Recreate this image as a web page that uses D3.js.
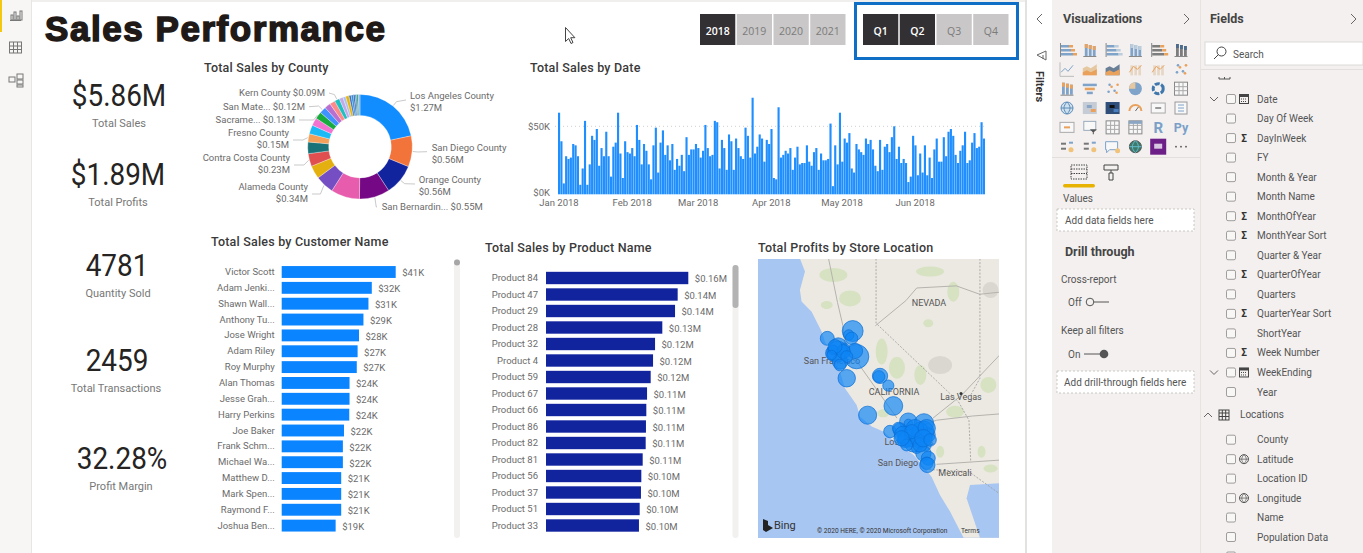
<!DOCTYPE html>
<html>
<head>
<meta charset="utf-8">
<script src="https://cdn.jsdelivr.net/npm/d3@7/dist/d3.min.js"></script>
<style>
  html, body { margin: 0; padding: 0; background: #fff; overflow: hidden; }
  svg { display: block; font-family: Roboto, "Noto Sans", sans-serif; }
  .axis path, .axis line { display: none; }
  .axis text { font-family: Roboto, sans-serif; fill: #6b6b6b; font-size: 9.5px; }
</style>
</head>
<body>
<div id="chart"></div>
<script>
// ---- data ----
const kpiValues = ["$5.86M", "$1.89M", "4781", "2459", "32.28%"];
const kpiNames = ["Total Sales", "Total Profits", "Quantity Sold", "Total Transactions", "Profit Margin"];

const years = ["2018", "2019", "2020", "2021"];
const yearsOn = ["2018"];
const quarters = ["Q1", "Q2", "Q3", "Q4"];
const quartersOn = ["Q1", "Q2"];

const countySales = [1.27, 0.56, 0.56, 0.55, 0.52, 0.34, 0.24, 0.23, 0.21, 0.15, 0.16, 0.14, 0.13, 0.12, 0.11, 0.10, 0.09, 0.07, 0.05, 0.06, 0.04, 0.04, 0.03, 0.03, 0.03, 0.03];
const countyPalette = ["#118dff", "#f2743b", "#12239e", "#750985", "#e85cad", "#744ec2", "#e3b00f", "#e04f4f", "#197278", "#f5a05a", "#1bb9f5", "#f472d0", "#1aab40", "#4092ff", "#b96fd0", "#ff8a8a", "#1fc0bf", "#c4a9e8", "#a9c2f0", "#e8b50d", "#3a6fc9", "#2f8fd8", "#2b5aa8", "#4a8cc7", "#2f9e6e", "#7fb2e5"];

const dailySales = [
  60,39,8,28,26,27,37,36,28,7,19,54,7,22,43,40,48,21,34,28,46,28,13,35,38,60,30,12,39,31,30,
  34,28,51,40,22,37,32,22,11,36,49,16,38,47,29,36,25,37,18,26,21,29,17,42,29,33,33,37,
  34,27,32,51,34,28,29,54,53,19,40,34,18,44,39,18,41,34,28,26,49,43,27,71,30,35,44,41,24,40,37,
  48,12,11,64,27,29,32,30,34,18,27,35,22,23,23,36,24,21,31,34,18,30,25,25,26,52,6,36,22,60,
  24,41,38,45,19,16,37,33,31,29,41,37,40,33,21,17,40,18,35,37,31,42,50,26,35,23,26,23,9,13,43,
  36,14,30,16,36,14,27,12,33,41,24,24,42,28,46,48,43,29,23,32,36,46,23,25,38,45,34,35,53,41
];

const customerNames = ["Victor Scott", "Adam Jenki...", "Shawn Wall...", "Anthony Tu...", "Jose Wright", "Adam Riley", "Roy Murphy", "Alan Thomas", "Jesse Grah...", "Harry Perkins", "Joe Baker", "Frank Schm...", "Michael Wa...", "Matthew D...", "Mark Spen...", "Raymond F...", "Joshua Ben..."];
const customerSales = [41, 32.4, 31.2, 29.4, 27.8, 27.3, 27, 24.4, 24.4, 24.3, 22.4, 22, 22, 21.4, 21.4, 21.4, 19.4];

const productNames = ["Product 84", "Product 47", "Product 29", "Product 28", "Product 32", "Product 4", "Product 59", "Product 67", "Product 66", "Product 86", "Product 82", "Product 81", "Product 56", "Product 37", "Product 51", "Product 33"];
const productSales = [0.1566, 0.1449, 0.142, 0.128, 0.12, 0.1178, 0.1152, 0.1112, 0.1104, 0.11, 0.1097, 0.1064, 0.1049, 0.1045, 0.1031, 0.1023];

const storeLon = [-121.16,-122.57,-121.38,-121.22,-120.94,-121.03,-121.96,-122.24,-121.62,-122.01,-121.86,-121.68,-122.24,-121.49,-119.64,-119.7,-119.18,-118.9,-120.33,-118.07,-117.2,-119.09,-118.53,-118.07,-117.6,-117.23,-116.96,-118.25,-117.79,-117.98,-117.42,-118.07,-117.6,-117.14,-117.23,-116.96,-117.05,-117.01,-118.62,-117.42,-118.35,-117.7,-117.05,-117.42,-118.16,-117.88,-118.44,-117.23,-116.86,-122.14,-121.49,-121.86,-122.33];
const storeLat = [39.15,38.8,38.96,38.8,37.93,38.2,38.41,38.09,38.33,38.17,37.69,38.17,38.25,36.9,37.01,36.98,36.55,35.58,35.14,34.83,34.75,34.36,34.44,34.12,34.2,34.36,34.2,33.96,33.8,34.2,34.04,34.75,33.56,33.72,33.32,33.09,32.85,32.77,34.52,34.44,34.2,34.52,34.52,33.72,33.72,34.36,34.04,34.04,33.96,38.41,37.93,37.53,38];
const storeProfit = [56,25,14,20,76,30,39,30,14,56,30,25,12,39,30,18,16,45,42,39,48,20,25,56,39,56,25,30,39,14,48,9,14,20,30,25,20,30,18,30,39,39,39,25,18,25,30,39,20,25,18,18,12];

const fieldNames = ["Date", "Day Of Week", "DayInWeek", "FY", "Month & Year", "Month Name", "MonthOfYear", "MonthYear Sort", "Quarter & Year", "QuarterOfYear", "Quarters", "QuarterYear Sort", "ShortYear", "Week Number", "WeekEnding", "Year"];
const sigmaFields = ["DayInWeek", "MonthOfYear", "MonthYear Sort", "QuarterOfYear", "QuarterYear Sort", "Week Number"];
const dateFields = ["Date", "WeekEnding"];
const locationFields = ["County", "Latitude", "Location ID", "Longitude", "Name", "Population Data"];
const globeFields = ["Latitude", "Longitude"];

// basemap, as lon/lat
const coastLine = [[-124.09,42.6],[-123.81,41.98],[-124.09,41.1],[-124,40.55],[-123.44,40.07],[-122.88,39.12],[-122.7,38.64],[-122.42,38.17],[-121.86,37.2],[-121.59,36.42],[-120.94,35.63],[-120.75,35.07],[-120.1,34.6],[-119.46,34.36],[-118.72,33.8],[-117.79,33.25],[-117.14,32.61],[-116.77,32.2],[-116.31,31.34],[-115.75,30.55],[-115,29.3],[-113,29.3],[-113,42.6]];
const gulfLine = [[-114.09,29.3],[-114.83,31.18],[-114.64,31.82],[-113,31.9],[-113,29.3]];
const stateBorders = [[[-119.86,42.6],[-119.86,39.52],[-115.29,35.79],[-114.7,34.9],[-114.6,32.9]], [[-114.09,42.6],[-114.09,36.9],[-114.6,36.1]], [[-116.9,32.55],[-114.7,32.45],[-113,31.4]]];
const roadLines = [[[-119.9,39.4],[-118.2,40.6],[-117.6,41.2],[-115.4,41.3],[-114.1,40.9],[-113,41]], [[-122.5,42.6],[-122,40.5],[-121.7,39.4],[-121.6,38.6],[-120.6,37.3],[-118.7,35]], [[-116.7,35],[-115.1,36.1],[-113,38]], [[-116.5,32.8],[-113,33]], [[-118.2,34.4],[-116.5,34.9],[-114.5,35.1],[-113,35.2]]];
const greenPatches = [[-122.23,41.82,14,7],[-121.31,40.7,11,8],[-122.6,40.39,6,4],[-119.55,38.17,6,13],[-118.7,37.4,8,11],[-117.4,37.06,6,10],[-116.96,39.52,5,4],[-115.57,41.02,6,10],[-116.86,41.98,14,5],[-115.47,35.3,9,6],[-113.62,36.58,8,8],[-114,33.4,4,6],[-116.3,33.4,4,6],[-113.5,32.6,7,4],[-119.46,35.23,6,4]];
const grayPatches = [[-116.3,37.53,12,9],[-113.5,41.1,8,8]];

// ---- page ----
const svg = d3.select("#chart").append("svg").attr("width", 1363).attr("height", 553);
const labelGray = "#6b6b6b";

const addText = (g, x, y, s, size, fill, opts) => {
  opts = opts || {};
  return g.append("text").attr("x", x).attr("y", y).attr("dy", "0.35em")
    .attr("font-size", size).attr("fill", fill)
    .attr("font-weight", opts.weight || 400)
    .attr("text-anchor", opts.anchor || "start")
    .text(s);
};

// panes
svg.append("rect").attr("width", 1363).attr("height", 553).attr("fill", "#fff");
svg.append("rect").attr("width", 32).attr("height", 553).attr("fill", "#f7f6f5");
svg.append("rect").attr("x", 31).attr("width", 1).attr("height", 553).attr("fill", "#e8e6e4");
svg.append("rect").attr("x", 0).attr("width", 2).attr("height", 32).attr("fill", "#f2c811");
svg.append("rect").attr("x", 32).attr("width", 993).attr("height", 2).attr("fill", "#f1efed");
svg.append("rect").attr("x", 1025).attr("width", 2).attr("height", 553).attr("fill", "#e4e2e0");
svg.append("rect").attr("x", 1052).attr("width", 311).attr("height", 553).attr("fill", "#f3f0ef");
svg.append("rect").attr("x", 1200).attr("width", 1).attr("height", 553).attr("fill", "#e6e3e1");

// left nav icons
const nav = svg.append("g").attr("fill", "none").attr("stroke", "#777").attr("stroke-width", 1);
[[11, 5], [14, 8], [17, 4], [20, 9]].forEach(b => nav.append("rect").attr("x", b[0]).attr("y", 20 - b[1] - 0).attr("width", 2).attr("height", b[1]));
nav.append("line").attr("x1", 10).attr("x2", 21).attr("y1", 20.5).attr("y2", 20.5);
nav.append("rect").attr("x", 9.5).attr("y", 42).attr("width", 12).attr("height", 11);
[46, 49.5].forEach(y => nav.append("line").attr("x1", 9.5).attr("x2", 21.5).attr("y1", y).attr("y2", y));
[13.5, 17.5].forEach(x => nav.append("line").attr("x1", x).attr("x2", x).attr("y1", 42).attr("y2", 53));
[[9, 77, 6, 5], [17, 74, 6, 5], [17, 80, 6, 4], [17, 85, 6, 2]].forEach(b => nav.append("rect").attr("x", b[0]).attr("y", b[1]).attr("width", b[2]).attr("height", b[3]));

// report title
svg.append("text").attr("x", 45).attr("y", 41).attr("font-family", "Liberation Sans, Arial, sans-serif")
  .attr("font-weight", 700).attr("font-size", 35).attr("fill", "#1f1a17")
  .attr("stroke", "#1f1a17").attr("stroke-width", 1.5)
  .attr("textLength", 340).attr("lengthAdjust", "spacing")
  .text("Sales Performance");

// KPI cards
const kpiX = [119, 118, 117, 117, 122];
const kpiY = [95, 174, 265, 360, 458];
const kpiLabelX = [119, 118, 118, 116, 121];
const kpiLabelY = [123, 202, 293, 388, 486];
kpiValues.forEach((v, i) => {
  const t = addText(svg, kpiX[i], kpiY[i], v, 31, "#252423", { anchor: "middle" });
  // the report's font is narrower than Roboto
  t.attr("textLength", t.node().getComputedTextLength() * 0.9).attr("lengthAdjust", "spacingAndGlyphs");
  addText(svg, kpiLabelX[i], kpiLabelY[i], kpiNames[i], 11, "#777", { anchor: "middle" });
});

// slicers
const slicer = (items, on, x0) => {
  const x = d3.scaleBand().domain(items).range([x0, x0 + 145.5]).paddingInner(0.04);
  const g = svg.append("g").selectAll("g").data(items).join("g");
  g.append("rect").attr("x", d => x(d)).attr("y", 14).attr("width", x.bandwidth()).attr("height", 31)
    .attr("fill", d => on.includes(d) ? "#333033" : "#c9c7c7");
  g.append("text").attr("x", d => x(d) + x.bandwidth() / 2).attr("y", 31.5).attr("dy", "0.35em")
    .attr("text-anchor", "middle").attr("font-size", 10.5)
    .attr("font-family", "Open Sans, sans-serif")
    .attr("fill", d => on.includes(d) ? "#fff" : "#7b7b7b")
    .attr("font-weight", d => on.includes(d) ? 600 : 400)
    .text(d => d);
};
slicer(years, yearsOn, 700);
slicer(quarters, quartersOn, 863);
svg.append("rect").attr("x", 855.5).attr("y", 3.5).attr("width", 162).attr("height", 55)
  .attr("fill", "none").attr("stroke", "#0f6fc6").attr("stroke-width", 3);

// visual titles
const titles = [["Total Sales by County", 204, 68], ["Total Sales by Date", 530, 68], ["Total Sales by Customer Name", 211, 242], ["Total Sales by Product Name", 485, 248], ["Total Profits by Store Location", 758, 248]];
titles.forEach(t => addText(svg, t[1], t[2], t[0], 12.5, "#3a3a3a", { weight: 500 }).attr("letter-spacing", 0.2));

// donut
const pie = d3.pie().sort(null)(countySales);
const arc = d3.arc().innerRadius(31.3).outerRadius(52.3);
const donut = svg.append("g").attr("transform", "translate(360,146.7)");
donut.selectAll("path").data(pie).join("path")
  .attr("d", arc).attr("fill", (d, i) => countyPalette[i]).attr("stroke", "#fff").attr("stroke-width", 0.3);

const fmtM = v => "$" + v.toFixed(2) + "M";
// index of slice, first line, second line or null, anchor x, y, anchor side, leader end
const countyLabels = [
  { i: 0, name: "Los Angeles County", x: 410, y: 96, two: true, side: "start", lx: 406 },
  { i: 1, name: "San Diego County", x: 431.7, y: 147.7, two: true, side: "start", lx: 427 },
  { i: 2, name: "Orange County", x: 418.7, y: 180, two: true, side: "start", lx: 415 },
  { i: 3, name: "San Bernardin...", x: 381.7, y: 207, two: false, side: "start", lx: 377 },
  { i: 5, name: "Alameda County", x: 308, y: 187, two: true, side: "end", lx: 312 },
  { i: 7, name: "Contra Costa County", x: 290, y: 158, two: true, side: "end", lx: 294 },
  { i: 9, name: "Fresno County", x: 289, y: 133, two: true, side: "end", lx: 293 },
  { i: 12, name: "Sacrame...", x: 295, y: 120, two: false, side: "end", lx: 299 },
  { i: 13, name: "San Mate...", x: 305, y: 106.7, two: false, side: "end", lx: 309 },
  { i: 16, name: "Kern County", x: 325, y: 93, two: false, side: "end", lx: 329 }
];
const cLabels = svg.append("g");
countyLabels.forEach(l => {
  const mid = (pie[l.i].startAngle + pie[l.i].endAngle) / 2;
  const px = 360 + Math.sin(mid) * 53, py = 146.7 - Math.cos(mid) * 53;
  const px2 = 360 + Math.sin(mid) * 58, py2 = 146.7 - Math.cos(mid) * 58;
  const ly = l.two ? (l.side === "start" ? l.y + 4 : l.y + 7) : l.y;
  cLabels.append("path").attr("fill", "none").attr("stroke", "#bbb").attr("stroke-width", 0.8)
    .attr("d", d3.line()([[px, py], [px2, py2 > ly + 3 || py2 < ly - 3 ? ly : py2], [l.lx, ly]]));
  if (l.two) {
    addText(cLabels, l.x, l.y, l.name, 9.5, labelGray, { anchor: l.side });
    addText(cLabels, l.x, l.y + 12, fmtM(countySales[l.i]), 9.5, labelGray, { anchor: l.side });
  } else {
    addText(cLabels, l.x, l.y, l.name + " " + fmtM(countySales[l.i]), 9.5, labelGray, { anchor: l.side });
  }
});

// daily column chart
const days = d3.timeDay.range(new Date(2018, 0, 1), new Date(2018, 5, 30).getTime() + 864e5);
const xDate = d3.scaleBand().domain(days).range([558, 985]).paddingInner(0.1).paddingOuter(0);
const xTime = d3.scaleTime().domain([new Date(2018, 0, 1), new Date(2018, 6, 1)]).range([558.5, 985.5]);
const yDate = d3.scaleLinear().domain([0, 50]).range([194.3, 126.3]);
svg.append("line").attr("x1", 555).attr("x2", 985).attr("y1", yDate(50)).attr("y2", yDate(50))
  .attr("stroke", "#cfcfcf").attr("stroke-dasharray", "1 3");
svg.append("g").selectAll("rect").data(dailySales).join("rect")
  .attr("x", (d, i) => xDate(days[i])).attr("width", xDate.bandwidth())
  .attr("y", d => yDate(d)).attr("height", d => yDate(0) - yDate(d))
  .attr("fill", "#1f8eff");
svg.append("g").attr("class", "axis").attr("transform", "translate(550,0)")
  .call(d3.axisLeft(yDate).tickValues([0, 50]).tickSize(0).tickPadding(0).tickFormat(d => "$" + d + "K"))
  .selectAll("text").attr("dy", (d) => d === 0 ? "0.1em" : "0.32em");
svg.append("g").attr("class", "axis").attr("transform", "translate(0,199.5)")
  .call(d3.axisBottom(xTime).ticks(d3.timeMonth.every(1)).tickSize(0).tickPadding(0).tickFormat(d3.timeFormat("%b %Y")))
  .selectAll("g.tick").filter(d => d >= new Date(2018, 6, 1)).remove();

// horizontal bars
const hbars = (names, values, x0, width, maxV, yFirst, step, color, labelX, fmt) => {
  const y = d3.scaleBand().domain(names).range([yFirst - step / 2, yFirst + step * (names.length - 0.5)]).paddingInner(0.25).paddingOuter(0.125);
  const x = d3.scaleLinear().domain([0, maxV]).range([0, width]);
  const g = svg.append("g");
  g.selectAll("rect").data(values).join("rect")
    .attr("x", x0).attr("y", (d, i) => y(names[i])).attr("width", d => x(d)).attr("height", y.bandwidth())
    .attr("fill", color);
  g.selectAll("text.val").data(values).join("text").attr("class", "val")
    .attr("x", d => x0 + x(d) + 6.5).attr("y", (d, i) => y(names[i]) + y.bandwidth() / 2 + 1).attr("dy", "0.35em")
    .attr("font-size", 9.5).attr("fill", labelGray).text(fmt);
  g.append("g").attr("class", "axis").attr("transform", `translate(${labelX},0)`)
    .call(d3.axisLeft(y).tickSize(0).tickPadding(0));
};
hbars(customerNames, customerSales, 281.7, 114, 41, 272, 15.85, "#0a84ff", 274.7, d => "$" + Math.round(d) + "K");
hbars(productNames, productSales, 546, 142.3, 0.1566, 278, 16.5, "#12239e", 538, d => "$" + d.toFixed(2) + "M");

// scrollbars
svg.append("rect").attr("x", 454).attr("y", 259).attr("width", 6).attr("height", 279).attr("rx", 3).attr("fill", "#f2f1f0");
svg.append("circle").attr("cx", 457).attr("cy", 262.5).attr("r", 3).attr("fill", "#a6a6a6");
svg.append("rect").attr("x", 732.5).attr("y", 265).attr("width", 6).attr("height", 273).attr("rx", 3).attr("fill", "#f2f1f0");
svg.append("rect").attr("x", 732.5).attr("y", 265).attr("width", 6).attr("height", 43).attr("rx", 3).attr("fill", "#b3b3b3");

// map
const lonX = d3.scaleLinear().domain([-126.42, -113.03]).range([758, 999]);
const latY = d3.scaleLinear().domain([42.58, 29.29]).range([259, 538]);
const geoLine = d3.line().x(d => lonX(d[0])).y(d => latY(d[1]));
svg.append("clipPath").attr("id", "mapclip").append("rect").attr("x", 758).attr("y", 259).attr("width", 241).attr("height", 279);
const map = svg.append("g").attr("clip-path", "url(#mapclip)");
map.append("rect").attr("x", 758).attr("y", 259).attr("width", 241).attr("height", 279).attr("fill", "#a8c6f2");
map.append("path").attr("d", geoLine(coastLine) + "Z").attr("fill", "#ece9e2");
map.append("path").attr("d", geoLine(gulfLine) + "Z").attr("fill", "#a8c6f2");
const blobs = (list, fill) => map.append("g").selectAll("ellipse").data(list).join("ellipse")
  .attr("cx", d => lonX(d[0])).attr("cy", d => latY(d[1])).attr("rx", d => d[2]).attr("ry", d => d[3]).attr("fill", fill);
blobs(greenPatches, "#d6e2c2");
blobs(grayPatches, "#d9d7d0");
map.append("g").selectAll("path").data(roadLines).join("path").attr("d", geoLine).attr("fill", "none").attr("stroke", "#b5b3ae").attr("stroke-width", 1);
map.append("g").selectAll("path").data(stateBorders).join("path").attr("d", geoLine).attr("fill", "none").attr("stroke", "#9a9a9a").attr("stroke-width", 0.8).attr("stroke-dasharray", "2 1.5");

const mapLabels = [["NEVADA", 929, 303], ["CALIFORNIA", 894, 392], ["Las Vegas", 961, 397], ["San Francisco", 832, 361], ["Los Angeles", 909, 442], ["San Diego", 898, 463], ["Mexicali", 955, 473]];
mapLabels.forEach(m => addText(map, m[1], m[2], m[0], 9, "#555", { anchor: "middle" }));
map.append("circle").attr("cx", lonX(-115.14)).attr("cy", latY(36.17)).attr("r", 1.5).attr("fill", "#333");

const rScale = d3.scaleSqrt().domain([0, 80]).range([0, 12.5]);
map.append("g").selectAll("circle").data(storeProfit).join("circle")
  .attr("cx", (d, i) => lonX(storeLon[i])).attr("cy", (d, i) => latY(storeLat[i])).attr("r", d => rScale(d))
  .attr("fill", "#0d85f5").attr("fill-opacity", 0.68).attr("stroke", "#0a6fd6").attr("stroke-width", 0.7);

addText(map, 774, 525, "Bing", 11, "#333");
map.append("path").attr("d", "M763 519 l0 11 l3 2 l7 -4 l-5 -3 l0 -4z").attr("fill", "#222");
addText(map, 817, 530.5, "© 2020 HERE, © 2020 Microsoft Corporation", 6.6, "#333");
addText(map, 961, 530.5, "Terms", 6.6, "#333");

// cursor
svg.append("path").attr("d", "M565.5 27.5 v14 l3.2 -3 l2.3 5 l2 -1 l-2.3 -4.8 h4.2z").attr("fill", "#fff").attr("stroke", "#444").attr("stroke-width", 1);

// filters pane
const chevron = (x, y, dir) => svg.append("path").attr("fill", "none").attr("stroke", "#666").attr("stroke-width", 1)
  .attr("d", dir === "r" ? `M${x - 3} ${y - 5} l5 5 l-5 5` : dir === "l" ? `M${x + 2} ${y - 5} l-5 5 l5 5` : dir === "d" ? `M${x - 4} ${y - 2} l4 4 l4 -4` : `M${x - 4} ${y + 2} l4 -4 l4 4`);
chevron(1040, 19, "l");
svg.append("path").attr("d", "M1037 55 l9 -4 v9z M1043 55 v4").attr("fill", "none").attr("stroke", "#666");
addText(svg, 0, 0, "Filters", 11, "#333", { weight: 700 }).attr("transform", "translate(1040,71) rotate(90)");

// visualizations pane
addText(svg, 1063, 19, "Visualizations", 12.5, "#444", { weight: 700 });
chevron(1187, 19, "r");
const vizKinds = ["hbar", "vbar", "hline", "vgroup", "hbar", "vstack", "line", "area", "area2", "combo", "combo", "dots", "water", "funnel", "dots", "pie", "donut", "tree", "globe", "mapfill", "mapdark", "gauge", "card", "list", "card", "slicer", "table", "table", "R", "Py", "flow", "flow", "speech", "earth", "purple", "more"];
const vizCols = d3.scalePoint().domain(d3.range(6)).range([1067, 1181]);
const vizRows = d3.scalePoint().domain(d3.range(6)).range([50, 146.7]);
const vBlue = "#7fa3c9", vOrange = "#e9a15c", vGray = "#7d7d7d";
vizKinds.forEach((k, n) => {
  const g = svg.append("g").attr("transform", `translate(${vizCols(n % 6)},${vizRows(Math.floor(n / 6))})`);
  const r = (x, y, w, h, c) => g.append("rect").attr("x", x).attr("y", y).attr("width", w).attr("height", h).attr("fill", c);
  const p = (d, c, f) => g.append("path").attr("d", d).attr("fill", f || "none").attr("stroke", c || "none").attr("stroke-width", 1);
  if (k === "hbar" || k === "hline") {
    [-5, -1, 3].forEach((y, i) => { r(-6, y, 8 + i * 2, 2.5, k === "hbar" && n === 4 ? vGray : vBlue); r(2 + i * 2, y, 4, 2.5, k === "hline" ? "#bcd" : vOrange); });
    p("M-6.5 -7 v14", "#888");
  } else if (k === "vbar" || k === "vgroup" || k === "vstack" || k === "water") {
    [-5, -1, 3].forEach((x, i) => { r(x, -6 + i, 2.8, 12 - i, k === "vstack" ? vGray : vBlue); r(x, -6 + i, 2.8, 4, k === "vbar" || k === "water" ? vOrange : k === "vstack" ? "#4d6b8a" : "#bcd"); });
    p("M-6.5 6.5 h13", "#888");
  } else if (k === "line") {
    p("M-6 3 L-2 -1 L1 2 L6 -4", vBlue); p("M-7 -7 v14 h14", "#bbb");
  } else if (k === "area" || k === "area2") {
    p("M-7 6 V-1 L-3 -3 L1 -1 L7 -5 V6z", null, k === "area2" ? "#6a7f95" : "#e6c8a0");
    p("M-7 6 V3 L-3 1 L1 3 L7 0 V6z", null, vOrange);
  } else if (k === "combo") {
    [-5, -1, 3].forEach(x => r(x, -4, 2.6, 10, "#e6d6c2")); p("M-6 3 L-2 -3 L2 0 L6 -4", vOrange);
  } else if (k === "dots") {
    [[-4, 3], [-1, -2], [2, 2], [5, -4], [-3, -4], [4, 4]].forEach((d, i) => g.append("circle").attr("cx", d[0]).attr("cy", d[1]).attr("r", 1.3).attr("fill", i % 2 ? vOrange : vBlue));
  } else if (k === "funnel") {
    [[-7, 14], [-5, 10], [-3, 6]].forEach((b, i) => r(b[0], -5 + i * 4, b[1], 2.5, i === 1 ? vOrange : vBlue));
  } else if (k === "pie") {
    g.append("circle").attr("r", 6.5).attr("fill", vBlue); p("M0 0 V-6.5 A6.5 6.5 0 0 0 -6.5 0z", null, "#e6c8a0");
  } else if (k === "donut") {
    g.append("circle").attr("r", 5).attr("fill", "none").attr("stroke", "#3f77ad").attr("stroke-width", 3).attr("stroke-dasharray", "5 1.5");
  } else if (k === "tree" || k === "table") {
    g.append("rect").attr("x", -6.5).attr("y", -6.5).attr("width", 13).attr("height", 13).attr("fill", "#f8f8f8").attr("stroke", "#888");
    p("M-6.5 -2 h13 M-6.5 2 h13 M-2 -6.5 v13 M2 -6.5 v13", "#aaa");
    if (n === 27) r(-6.5, -6.5, 13, 3, "#8aa6c4");
  } else if (k === "globe" || k === "earth") {
    g.append("circle").attr("r", 6).attr("fill", k === "earth" ? "#3d7a6b" : "#cfe0ef").attr("stroke", k === "earth" ? "#555" : "#5f8db8");
    p("M-6 0 h12 M0 -6 c-4 4 -4 8 0 12 c4 -4 4 -8 0 -12", k === "earth" ? "#6bc" : "#5f8db8");
  } else if (k === "mapfill" || k === "mapdark") {
    r(-7, -6, 14, 12, k === "mapdark" ? "#2f4f7a" : "#c6ccd6"); r(-3, -3, 5, 3, k === "mapdark" ? "#111" : "#8aa6c4"); r(1, 1, 5, 3, k === "mapdark" ? "#4b80c0" : vOrange);
  } else if (k === "gauge") {
    p("M-6 3 A6 6 0 0 1 6 3", vOrange).attr("stroke-width", 2); p("M0 3 L3 -1", "#666");
  } else if (k === "card") {
    g.append("rect").attr("x", -7).attr("y", -5).attr("width", 14).attr("height", 10).attr("fill", "#f8f8f8").attr("stroke", "#aaa");
    r(-3, -1, 6, 2, n === 24 ? vOrange : "#999");
  } else if (k === "list") {
    g.append("rect").attr("x", -6).attr("y", -6).attr("width", 12).attr("height", 12).attr("fill", "#f8f8f8").attr("stroke", "#999");
    p("M-3 -3 h6 M-3 0 h6 M-3 3 h6", "#7fa3c9");
  } else if (k === "slicer") {
    g.append("rect").attr("x", -6).attr("y", -6).attr("width", 12).attr("height", 9).attr("fill", "#f8f8f8").attr("stroke", "#9ab");
    p("M0 2 h7 l-3 3 v2 h-1 v-2z", null, "#555");
  } else if (k === "R" || k === "Py") {
    addText(g, 0, 0, k, k === "R" ? 15 : 12.5, "#7aa0c8", { anchor: "middle", weight: 700 });
  } else if (k === "flow") {
    r(-6, -4, 5, 2, "#777"); r(-6, 1, 5, 2, "#777"); r(2, -5, 4, 2, vBlue); g.append("circle").attr("cx", 4).attr("cy", 3).attr("r", 2.5).attr("fill", "#f0c27a");
  } else if (k === "speech") {
    p("M-7 -5 h12 v8 h-8 l-3 3 v-3 h-1z", "#7fa3c9", "#f8f8f8"); g.append("circle").attr("cx", 5).attr("cy", 4).attr("r", 2.5).attr("fill", "#f0c27a");
  } else if (k === "purple") {
    r(-8, -8, 16, 16, "#6b1f87"); r(-4, -3, 8, 5, "#d9c6e2");
  } else if (k === "more") {
    [-5, 0, 5].forEach(x => g.append("circle").attr("cx", x).attr("r", 0.9).attr("fill", "#555"));
  }
});
svg.append("line").attr("x1", 1052).attr("x2", 1200).attr("y1", 157.5).attr("y2", 157.5).attr("stroke", "#e2dfdd");
// fields / format tabs
const tabs = svg.append("g").attr("fill", "none").attr("stroke", "#444");
tabs.append("rect").attr("x", 1071).attr("y", 165).attr("width", 16).attr("height", 14).attr("stroke-dasharray", "1.5 1");
[169, 173.5].forEach(y => tabs.append("line").attr("x1", 1071).attr("x2", 1087).attr("y1", y).attr("y2", y).attr("stroke-dasharray", "1.5 1"));
tabs.append("path").attr("d", "M1104 165 h14 v5 h-14z M1111 170 v3 M1109 173 h4 v7 h-4z").attr("fill", "#f3f0ef");
svg.append("rect").attr("x", 1063).attr("y", 184).attr("width", 32).attr("height", 3.5).attr("rx", 1.7).attr("fill", "#e8b200");
addText(svg, 1063, 198.5, "Values", 10, "#555");
const dropBox = (y, s, tx) => {
  svg.append("rect").attr("x", 1057).attr("y", y).attr("width", 137).attr("height", 22).attr("fill", "#fff").attr("stroke", "#bdbbb9").attr("stroke-width", 0.8).attr("stroke-dasharray", "2 2");
  addText(svg, tx, y + 11.5, s, 10, "#555");
};
dropBox(209, "Add data fields here", 1065);
addText(svg, 1065, 252, "Drill through", 12.5, "#444", { weight: 700 });
addText(svg, 1061, 279, "Cross-report", 10, "#555");
addText(svg, 1068, 302, "Off", 10, "#555");
svg.append("circle").attr("cx", 1090).attr("cy", 302).attr("r", 3.8).attr("fill", "#f3f0ef").attr("stroke", "#555");
svg.append("line").attr("x1", 1094).attr("x2", 1109).attr("y1", 302).attr("y2", 302).attr("stroke", "#555");
addText(svg, 1061, 330.5, "Keep all filters", 10, "#555");
addText(svg, 1068, 354, "On", 10, "#555");
svg.append("line").attr("x1", 1084).attr("x2", 1100).attr("y1", 354).attr("y2", 354).attr("stroke", "#555");
svg.append("circle").attr("cx", 1104).attr("cy", 354).attr("r", 4.3).attr("fill", "#555");
dropBox(371, "Add drill-through fields here", 1064);

// fields pane
addText(svg, 1210, 19, "Fields", 12.5, "#444", { weight: 700 });
chevron(1354, 19, "r");
svg.append("rect").attr("x", 1205).attr("y", 42).attr("width", 158).attr("height", 23).attr("fill", "#fff").attr("stroke", "#dcdad8");
svg.append("path").attr("d", "M1214 59 l4.5 -4.5 M1217 51.5 a4.5 4.5 0 1 0 9 0 a4.5 4.5 0 1 0 -9 0").attr("fill", "none").attr("stroke", "#444");
addText(svg, 1233, 54, "Search", 10, "#555");
svg.append("line").attr("x1", 1201).attr("x2", 1363).attr("y1", 69.5).attr("y2", 69.5).attr("stroke", "#e2dfdd");
svg.append("path").attr("d", "M1219 79 h11 M1219 77 v2 M1224.5 77 v2 M1230 77 v2").attr("fill", "none").attr("stroke", "#555");

const calendar = (x, y) => {
  const g = svg.append("g").attr("transform", `translate(${x},${y})`);
  g.append("rect").attr("x", -4.5).attr("y", -4.5).attr("width", 9).attr("height", 9).attr("fill", "#f3f0ef").attr("stroke", "#444");
  g.append("rect").attr("x", -4.5).attr("y", -4.5).attr("width", 9).attr("height", 2.5).attr("fill", "#444");
  g.append("path").attr("d", "M-3 0 h6 M-3 2.5 h6").attr("stroke", "#444").attr("stroke-dasharray", "1 1");
};
const fieldRow = (name, y) => {
  svg.append("rect").attr("x", 1226.5).attr("y", y - 4.5).attr("width", 9).attr("height", 9).attr("rx", 1.5).attr("fill", "#f8f7f6").attr("stroke", "#8a8886").attr("stroke-width", 0.8);
  if (sigmaFields.includes(name)) addText(svg, 1244, y, "Σ", 10, "#333", { anchor: "middle", weight: 700 });
  if (dateFields.includes(name)) { calendar(1244, y); chevron(1214, y, "d"); }
  if (globeFields.includes(name)) {
    svg.append("circle").attr("cx", 1244).attr("cy", y).attr("r", 4.5).attr("fill", "none").attr("stroke", "#555");
    svg.append("path").attr("d", `M1239.5 ${y} h9 M1244 ${y - 4.5} c-3 3 -3 6 0 9 c3 -3 3 -6 0 -9`).attr("fill", "none").attr("stroke", "#555").attr("stroke-width", 0.7);
  }
  addText(svg, 1257, y, name, 10, "#555");
};
const fieldY = d3.scaleLinear().domain([0, 15]).range([99, 392]);
fieldNames.forEach((n, i) => fieldRow(n, fieldY(i)));
chevron(1208, 415, "u");
const tbl = svg.append("g").attr("transform", "translate(1224,415)");
tbl.append("rect").attr("x", -5).attr("y", -5).attr("width", 10).attr("height", 10).attr("fill", "#f3f0ef").attr("stroke", "#444");
tbl.append("path").attr("d", "M-5 -2 h10 M-5 1.5 h10 M-1.7 -5 v10 M1.7 -5 v10").attr("stroke", "#444");
addText(svg, 1240, 414, "Locations", 10, "#555");
const locY = d3.scaleLinear().domain([0, 5]).range([439.7, 537]);
locationFields.forEach((n, i) => fieldRow(n, locY(i)));
svg.append("rect").attr("x", 1226.5).attr("y", 552).attr("width", 9).attr("height", 9).attr("rx", 1.5).attr("fill", "#f8f7f6").attr("stroke", "#8a8886").attr("stroke-width", 0.8);
</script>
</body>
</html>
